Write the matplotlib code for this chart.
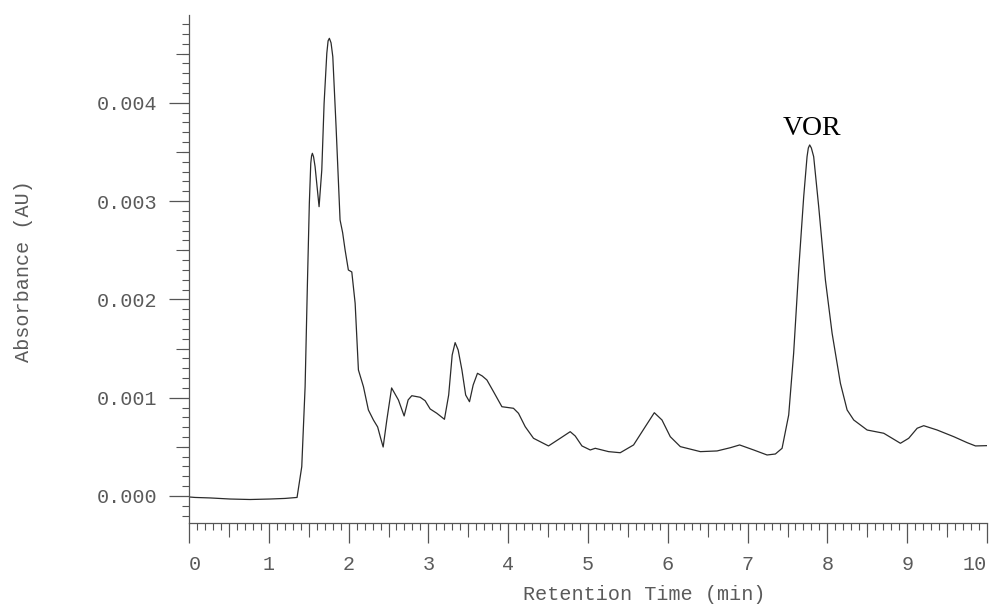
import numpy as np
import matplotlib
matplotlib.use("Agg")
import matplotlib.pyplot as plt
from matplotlib.ticker import MultipleLocator, FixedLocator

# ---- data ----
time_min = [
    0.000, 0.075, 0.263, 0.514, 0.765, 1.016, 1.204, 1.354,
    1.413, 1.455, 1.483, 1.508, 1.526, 1.536, 1.546, 1.561, 1.580, 1.630,
    1.664, 1.693, 1.727, 1.743, 1.759, 1.780, 1.802, 1.843, 1.893, 1.925, 1.956,
    1.997, 2.040, 2.082, 2.123, 2.186, 2.248, 2.311, 2.364,
    2.401, 2.433, 2.479, 2.539, 2.624, 2.696, 2.746, 2.792,
    2.897, 2.959, 3.022, 3.106, 3.201, 3.254, 3.298, 3.335,
    3.373, 3.420, 3.467, 3.515, 3.561, 3.615, 3.674, 3.733,
    3.816, 3.921, 4.066, 4.129, 4.213, 4.317, 4.505, 4.652,
    4.777, 4.840, 4.924, 5.028, 5.091, 5.258, 5.404, 5.571,
    5.718, 5.831, 5.927, 6.031, 6.157, 6.408, 6.617, 6.784,
    6.900, 7.076, 7.244, 7.348, 7.432, 7.515, 7.577, 7.640,
    7.703, 7.745, 7.761, 7.778, 7.799, 7.828, 7.891, 7.975, 8.059, 8.163,
    8.247, 8.330, 8.498, 8.706, 8.811, 8.915, 9.019, 9.125,
    9.207, 9.375, 9.584, 9.752, 9.856, 10.000,
]
absorbance_mAU = [
    -0.010, -0.015, -0.020, -0.031, -0.036, -0.031, -0.025, -0.015,
    0.298, 1.112, 2.129, 2.978, 3.385, 3.460, 3.486, 3.450, 3.350, 2.943,
    3.316, 3.995, 4.504, 4.630, 4.656, 4.610, 4.469, 3.757, 2.808, 2.680, 2.503,
    2.299, 2.279, 1.960, 1.282, 1.112, 0.875, 0.773, 0.702,
    0.590, 0.498, 0.773, 1.099, 0.977, 0.814, 0.977, 1.020,
    1.004, 0.969, 0.885, 0.841, 0.780, 1.027, 1.434, 1.560,
    1.485, 1.282, 1.027, 0.959, 1.129, 1.248, 1.221, 1.180,
    1.061, 0.908, 0.892, 0.841, 0.705, 0.587, 0.509, 0.587,
    0.654, 0.610, 0.509, 0.468, 0.485, 0.451, 0.440, 0.519,
    0.705, 0.847, 0.773, 0.603, 0.502, 0.451, 0.458, 0.491,
    0.519, 0.468, 0.417, 0.427, 0.485, 0.824, 1.452, 2.299,
    3.045, 3.452, 3.540, 3.571, 3.540, 3.452, 2.943, 2.197, 1.655, 1.146,
    0.875, 0.773, 0.671, 0.638, 0.587, 0.536, 0.587, 0.689,
    0.715, 0.671, 0.603, 0.542, 0.509, 0.512,
]
y_major_ticks = [0.000, 0.001, 0.002, 0.003, 0.004]
y_tick_labels = ["0.000", "0.001", "0.002", "0.003", "0.004"]
x_major_ticks = [0, 1, 2, 3, 4, 5, 6, 7, 8, 9, 10]
peak_label = "VOR"
peak_label_pos = (7.81, 0.00374)

absorbance = np.array(absorbance_mAU) * 1e-3

mono = ["Liberation Mono", "DejaVu Sans Mono"]
grey = "#5a5a5a"
axis_col = "#555555"

fig = plt.figure(figsize=(9.9, 6.06), dpi=100)
ax = fig.add_axes([189 / 990, 83 / 606, 798 / 990, 508 / 606])

ax.plot(time_min, absorbance, color="#2b2b2b", lw=0.9)

ax.set_xlim(0, 10)
ax.set_ylim(-0.000275, 0.004893)

for s in ("top", "right"):
    ax.spines[s].set_visible(False)
for s in ("left", "bottom"):
    ax.spines[s].set_color(axis_col)
    ax.spines[s].set_linewidth(0.9)

ax.set_yticks(y_major_ticks)
ax.set_yticklabels(y_tick_labels)
ax.set_xticks(x_major_ticks)
ax.set_xticklabels([str(v) for v in x_major_ticks])
ax.yaxis.set_minor_locator(MultipleLocator(0.0001))
ax.xaxis.set_minor_locator(MultipleLocator(0.1))

ax.tick_params(axis="both", which="major", direction="out", length=14.4,
               width=0.9, color=axis_col, labelcolor=grey, pad=8.6,
               labelsize=14.5)
ax.tick_params(axis="both", which="minor", direction="out", length=5,
               width=0.8, color=axis_col)
for lab in ax.get_xticklabels() + ax.get_yticklabels():
    lab.set_family(mono)
xlabs = ax.get_xticklabels()
xlabs[0].set_ha("left")
xlabs[-1].set_ha("right")

# medium ticks at the half-intervals
sy = ax.secondary_yaxis("left")
sy.yaxis.set_major_locator(FixedLocator([-0.0005 + 0.001 * i for i in range(1, 6)]))
sy.tick_params(axis="y", which="major", direction="out", length=9.4, width=0.8,
               color=axis_col, labelleft=False)
sy.yaxis.set_minor_locator(FixedLocator([]))
sy.spines["left"].set_visible(False)

sx = ax.secondary_xaxis("bottom")
sx.xaxis.set_major_locator(FixedLocator([0.5 + i for i in range(10)]))
sx.tick_params(axis="x", which="major", direction="out", length=10, width=0.8,
               color=axis_col, labelbottom=False)
sx.xaxis.set_minor_locator(FixedLocator([]))
sx.spines["bottom"].set_visible(False)

ax.set_xlabel("Retention Time (min)", family=mono, fontsize=14.5, color=grey)
ax.xaxis.set_label_coords(0.570, -0.1417)
ax.xaxis.label.set_va("center")
ax.set_ylabel("Absorbance (AU)", family=mono, fontsize=14.5, color=grey)
ax.yaxis.set_label_coords(-0.2068, 0.496)
ax.yaxis.label.set_va("center")

ax.text(peak_label_pos[0], peak_label_pos[1], peak_label, ha="center",
        va="center", family=["Liberation Serif", "DejaVu Serif"],
        fontsize=20, color="black")

fig.savefig("out.png", dpi=100, facecolor="white")
